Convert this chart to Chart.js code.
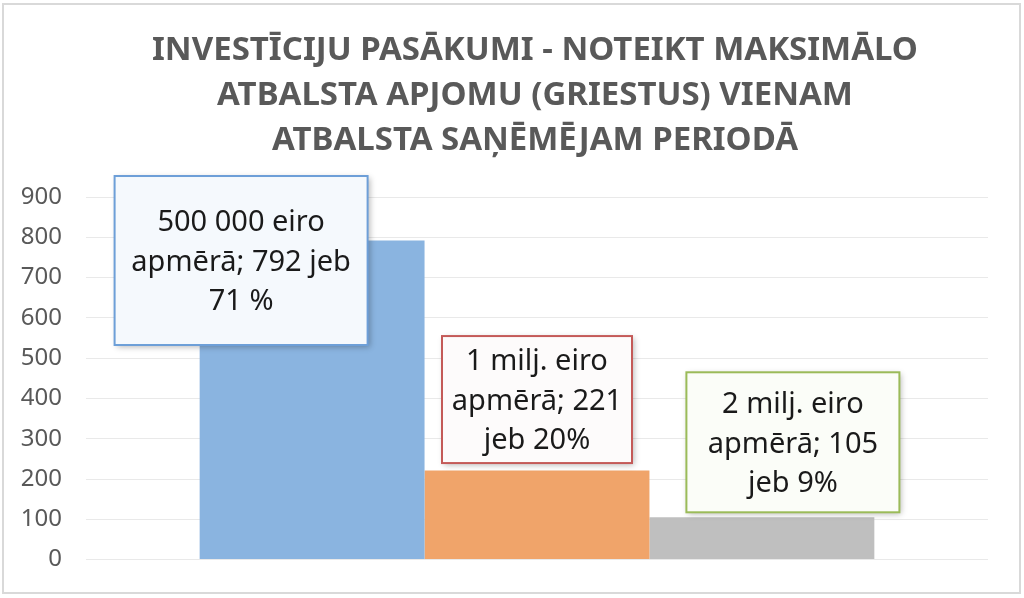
<!DOCTYPE html>
<html>
<head>
<meta charset="utf-8">
<script src="https://cdn.jsdelivr.net/npm/chart.js@4.4.1/dist/chart.umd.min.js"></script>
<style>
  html, body { margin: 0; padding: 0; background: #fff; }
  #frame {
    position: absolute; left: 2px; top: 3px; width: 1015px; height: 587px;
    border: 2px solid #d9d9d9;
  }
  #chartCanvas { position: absolute; left: 0; top: 0; }
</style>
</head>
<body>
<div id="frame"></div>
<canvas id="chartCanvas" width="1024" height="598"></canvas>
<script>
// ---- data ----
const categories = ["500 000 eiro", "1 milj. eiro", "2 milj. eiro"];
const counts = [792, 221, 105];
const shares = ["71 %", "20%", "9%"];
const yTicks = [0, 100, 200, 300, 400, 500, 600, 700, 800, 900];
const titleLines = [
  "INVESTĪCIJU PASĀKUMI - NOTEIKT MAKSIMĀLO",
  "ATBALSTA APJOMU (GRIESTUS) VIENAM",
  "ATBALSTA SAŅĒMĒJAM PERIODĀ"
];
// label text, split the way the boxes wrap it
const labelLines = [
  [categories[0], "apmērā; " + counts[0] + " jeb", shares[0]],
  [categories[1], "apmērā; " + counts[1], "jeb " + shares[1]],
  [categories[2], "apmērā; " + counts[2], "jeb " + shares[2]]
];

const barColors = ["#8ab4e0", "#f0a46a", "#bfbfbf"];
const boxStyles = [
  { w: 253, h: 169, dx: -71, dy: 20, border: "#6d9fd8", fill: "#f5f9fd" },
  { w: 190, h: 127, dx: 0, dy: -71, border: "#c45a58", fill: "#fdfbfb" },
  { w: 213, h: 140, dx: 31, dy: -75, border: "#9bbb59", fill: "#fbfdf8" }
];

// ---- title drawn by hand (Excel centres it a bit right of the canvas middle) ----
const chartTitle = {
  id: "chartTitle",
  afterDraw(chart) {
    const ctx = chart.ctx;
    ctx.save();
    ctx.fillStyle = "#595959";
    ctx.font = "bold 33px 'Noto Sans'";
    ctx.textAlign = "center";
    ctx.textBaseline = "middle";
    titleLines.forEach((t, k) => ctx.fillText(t, 535, 51 + k * 45));
    ctx.restore();
  }
};

// ---- custom label boxes ----
const labelBoxes = {
  id: "labelBoxes",
  afterDatasetsDraw(chart) {
    const ctx = chart.ctx;
    const y = chart.scales.y;
    chart.data.datasets.forEach((ds, i) => {
      const bar = chart.getDatasetMeta(i).data[0];
      const st = boxStyles[i];
      const cx = bar.x + st.dx;
      const cy = y.getPixelForValue(ds.data[0]) + st.dy;
      const left = cx - st.w / 2, top = cy - st.h / 2;
      ctx.save();
      ctx.shadowColor = "rgba(0,0,0,0.28)";
      ctx.shadowBlur = 6;
      ctx.shadowOffsetX = 2;
      ctx.shadowOffsetY = 2;
      ctx.fillStyle = st.fill;
      ctx.fillRect(left, top, st.w, st.h);
      ctx.shadowColor = "transparent";
      ctx.strokeStyle = st.border;
      ctx.lineWidth = 2;
      ctx.strokeRect(left, top, st.w, st.h);
      ctx.fillStyle = "#1a1a1a";
      ctx.font = "29px 'Noto Sans'";
      ctx.textAlign = "center";
      ctx.textBaseline = "middle";
      const lines = labelLines[i];
      const lh = 39.5;
      lines.forEach((t, k) => {
        ctx.fillText(t, cx, cy + 2 + (k - (lines.length - 1) / 2) * lh);
      });
      ctx.restore();
    });
  }
};

const ctx = document.getElementById("chartCanvas").getContext("2d");
new Chart(ctx, {
  type: "bar",
  data: {
    labels: [""],
    datasets: categories.map((c, i) => ({
      label: c,
      data: [counts[i]],
      backgroundColor: barColors[i],
      borderWidth: 0
    }))
  },
  options: {
    responsive: false,
    animation: false,
    categoryPercentage: 0.748,
    barPercentage: 1,
    layout: { padding: { left: 0, right: 36, top: 197, bottom: 23 } },
    plugins: {
      legend: { display: false },
      tooltip: { enabled: false },
      title: { display: false }
    },
    scales: {
      x: { display: false },
      y: {
        min: 0,
        max: 900,
        afterBuildTicks(scale) {
          scale.ticks = yTicks.map(v => ({ value: v }));
        },
        afterFit(scale) { scale.width = 86; },
        border: { display: false },
        grid: { color: "#e9e9e9", lineWidth: 1, drawTicks: false },
        ticks: {
          padding: 24,
          color: "#595959",
          font: { family: "'Noto Sans'", size: 24 }
        }
      }
    }
  },
  plugins: [labelBoxes, chartTitle]
});
</script>
</body>
</html>
